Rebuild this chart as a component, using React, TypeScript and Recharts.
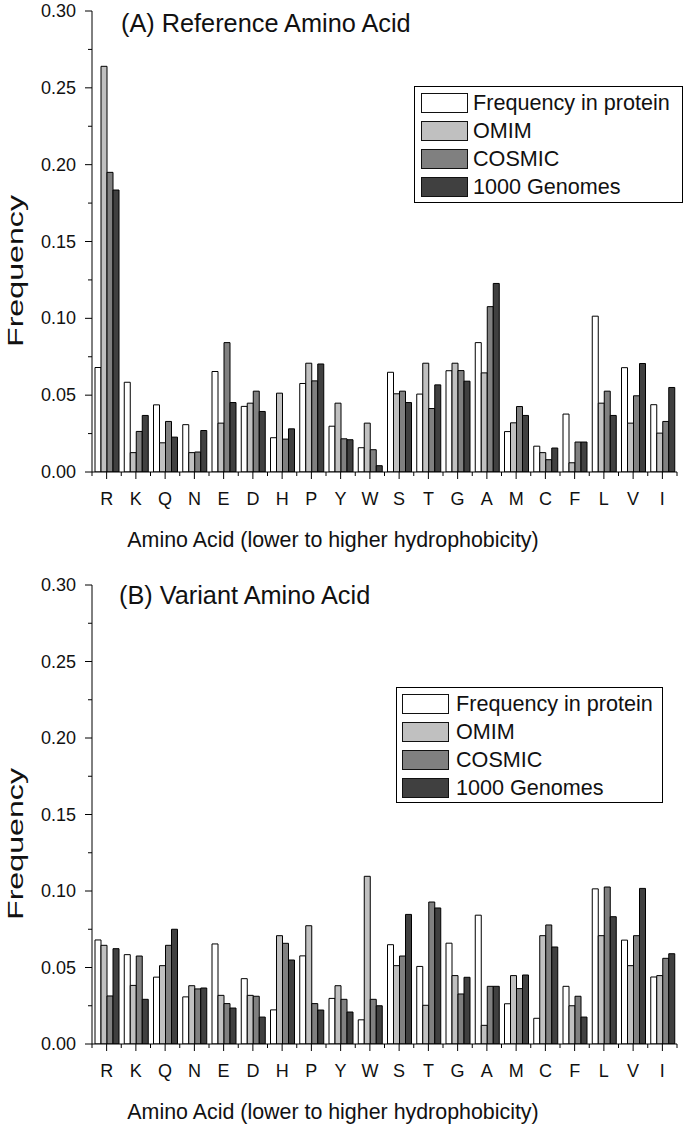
import React from 'react';
import { BarChart, Bar, XAxis, YAxis, Legend } from 'recharts';

const categories = ['R', 'K', 'Q', 'N', 'E', 'D', 'H', 'P', 'Y', 'W', 'S', 'T', 'G', 'A', 'M', 'C', 'F', 'L', 'V', 'I'];

const proteinFreq = [0.068, 0.0584, 0.0437, 0.0308, 0.0654, 0.0427, 0.0223, 0.0576, 0.0298, 0.0158, 0.0649, 0.0507, 0.0659, 0.0842, 0.0263, 0.0168, 0.0377, 0.1014, 0.0679, 0.0438];

const refOmim = [0.264, 0.0126, 0.019, 0.0126, 0.0318, 0.0448, 0.0513, 0.0708, 0.0448, 0.0318, 0.0509, 0.0708, 0.0708, 0.0645, 0.032, 0.0126, 0.006, 0.0448, 0.0318, 0.0253];
const refCosmic = [0.195, 0.0264, 0.0329, 0.013, 0.0842, 0.0526, 0.0214, 0.0593, 0.0216, 0.0145, 0.0526, 0.0413, 0.066, 0.1076, 0.0426, 0.008, 0.0195, 0.0526, 0.0496, 0.0329];
const ref1000G = [0.1835, 0.0368, 0.0227, 0.027, 0.0452, 0.0394, 0.0281, 0.0703, 0.021, 0.0041, 0.0452, 0.0567, 0.0591, 0.1227, 0.0368, 0.0156, 0.0195, 0.0368, 0.0706, 0.055];

const varOmim = [0.0645, 0.0383, 0.0512, 0.0381, 0.0318, 0.0318, 0.0708, 0.0773, 0.0381, 0.1096, 0.0512, 0.0253, 0.0447, 0.0122, 0.0447, 0.0708, 0.025, 0.0708, 0.0512, 0.0447];
const varCosmic = [0.0314, 0.0575, 0.0645, 0.036, 0.0264, 0.0312, 0.0658, 0.0264, 0.0292, 0.0292, 0.0575, 0.0928, 0.0327, 0.0377, 0.0362, 0.0778, 0.0312, 0.1026, 0.0708, 0.056];
const var1000G = [0.0623, 0.0292, 0.075, 0.0366, 0.0235, 0.0176, 0.0549, 0.0222, 0.0209, 0.025, 0.0847, 0.0889, 0.0436, 0.0377, 0.0451, 0.0634, 0.0176, 0.0832, 0.1017, 0.059];

const seriesKeys = ['protein', 'omim', 'cosmic', 'g1000'];
const seriesNames = ['Frequency in protein', 'OMIM', 'COSMIC', '1000 Genomes'];
const seriesColors = ['#ffffff', '#c0c0c0', '#808080', '#404040'];

const yTicks = [0, 0.025, 0.05, 0.075, 0.1, 0.125, 0.15, 0.175, 0.2, 0.225, 0.25, 0.275, 0.3];

const FONT = "'Liberation Sans', Arial, Helvetica, sans-serif";
const INK = '#111';
const CHART_W = 685;
const AXIS_W = 92;
const RIGHT_M = 8;
const BAND = (CHART_W - AXIS_W - RIGHT_M) / categories.length;

function buildRows(omim: number[], cosmic: number[], g1000: number[]) {
  return categories.map((aa, i) => ({
    aa,
    protein: proteinFreq[i],
    omim: omim[i],
    cosmic: cosmic[i],
    g1000: g1000[i],
  }));
}

const refData = buildRows(refOmim, refCosmic, ref1000G);
const varData = buildRows(varOmim, varCosmic, var1000G);

const XTick = (props: any) => {
  const { x, y, payload, index } = props;
  const last = index === categories.length - 1;
  return (
    <g>
      <line x1={x} x2={x} y1={y} y2={y + 7} stroke="#000" strokeWidth={1} />
      <line x1={x - BAND / 2} x2={x - BAND / 2} y1={y} y2={y + 4} stroke="#000" strokeWidth={1} />
      {last && <line x1={x + BAND / 2} x2={x + BAND / 2} y1={y} y2={y + 4} stroke="#000" strokeWidth={1} />}
      <text x={x} y={y + 33} textAnchor="middle" fontSize={18} fill={INK} fontFamily={FONT}>
        {payload.value}
      </text>
    </g>
  );
};

const YTick = (props: any) => {
  const { x, y, payload } = props;
  const v = payload.value as number;
  const major = Math.round(v * 1000) % 50 === 0;
  return (
    <g>
      <line x1={x} x2={x - (major ? 7 : 4)} y1={y} y2={y} stroke="#000" strokeWidth={1} />
      {major && (
        <text x={x - 16} y={y + 6} textAnchor="end" fontSize={18} fill={INK} fontFamily={FONT}>
          {v.toFixed(2)}
        </text>
      )}
    </g>
  );
};

const LegendBox = ({ swatchLeft, textGap }: { swatchLeft: number; textGap: number }) => (
  <div
    style={{
      border: '1px solid #000',
      background: '#fff',
      boxSizing: 'border-box',
      width: '100%',
      height: '100%',
      paddingTop: 5.5,
      paddingLeft: swatchLeft,
      fontFamily: FONT,
    }}
  >
    {seriesNames.map((name, i) => (
      <div key={name} style={{ display: 'flex', alignItems: 'center', height: 20, marginBottom: i < 3 ? 8.2 : 0 }}>
        <div
          style={{
            width: 47,
            height: 20,
            boxSizing: 'border-box',
            border: '1.5px solid #111',
            background: seriesColors[i],
            marginRight: textGap,
            flexShrink: 0,
          }}
        />
        <span style={{ fontSize: 21.6, lineHeight: '20px', color: INK, whiteSpace: 'nowrap' }}>{name}</span>
      </div>
    ))}
  </div>
);

type PanelProps = {
  data: any[];
  height: number;
  topMargin: number;
  xAxisHeight: number;
  title: string;
  titleX: number;
  titleY: number;
  yLabelY: number;
  legend: { left: number; top: number; width: number; height: number; swatchLeft: number; textGap: number };
};

const Panel = (p: PanelProps) => {
  const axisY = p.height - p.xAxisHeight;
  return (
    <BarChart
      width={CHART_W}
      height={p.height}
      data={p.data}
      margin={{ top: p.topMargin, right: RIGHT_M, left: 0, bottom: 0 }}
      barGap={0}
      barCategoryGap={0}
    >
      <XAxis
        dataKey="aa"
        height={p.xAxisHeight}
        interval={0}
        tickLine={false}
        tickSize={0}
        tickMargin={0}
        axisLine={{ stroke: '#000', strokeWidth: 1 }}
        tick={<XTick />}
      />
      <YAxis
        width={AXIS_W}
        domain={[0, 0.3]}
        ticks={yTicks}
        interval={0}
        allowDataOverflow
        tickLine={false}
        tickSize={0}
        tickMargin={0}
        axisLine={{ stroke: '#000', strokeWidth: 1 }}
        tick={<YTick />}
      />
      {seriesKeys.map((k, i) => (
        <Bar
          key={k}
          dataKey={k}
          name={seriesNames[i]}
          fill={seriesColors[i]}
          stroke="#000"
          strokeWidth={1}
          barSize={6}
          isAnimationActive={false}
        />
      ))}
      <Legend
        layout="vertical"
        align="center"
        verticalAlign="middle"
        wrapperStyle={{
          left: p.legend.left,
          top: p.legend.top,
          width: p.legend.width,
          height: p.legend.height,
        }}
        content={() => <LegendBox swatchLeft={p.legend.swatchLeft} textGap={p.legend.textGap} />}
      />
      <text x={p.titleX} y={p.titleY} fontSize={25.3} fill={INK} fontFamily={FONT}>
        {p.title}
      </text>
      <text
        x={23}
        y={p.yLabelY}
        transform={`rotate(-90 23 ${p.yLabelY})`}
        textAnchor="middle"
        fontSize={22}
        fill={INK}
        fontFamily={FONT}
        textLength={152}
        lengthAdjust="spacingAndGlyphs"
      >
        Frequency
      </text>
      <text x={333} y={axisY + 75} textAnchor="middle" fontSize={21.4} fill={INK} fontFamily={FONT}>
        Amino Acid (lower to higher hydrophobicity)
      </text>
    </BarChart>
  );
};

export default function App() {
  return (
    <div style={{ position: 'absolute', left: 0, top: 0, width: 685, height: 1129, background: '#fff' }}>
      <div style={{ position: 'absolute', left: 0, top: 0 }}>
        <Panel
          data={refData}
          height={570}
          topMargin={11}
          xAxisHeight={98}
          title="(A) Reference Amino Acid"
          titleX={121}
          titleY={32}
          yLabelY={271}
          legend={{ left: 414, top: 86, width: 269, height: 117, swatchLeft: 6, textGap: 5 }}
        />
      </div>
      <div style={{ position: 'absolute', left: 0, top: 570 }}>
        <Panel
          data={varData}
          height={559}
          topMargin={15}
          xAxisHeight={85}
          title="(B) Variant Amino Acid"
          titleX={119}
          titleY={34}
          yLabelY={274}
          legend={{ left: 396, top: 117, width: 267, height: 116, swatchLeft: 5, textGap: 7 }}
        />
      </div>
    </div>
  );
}
